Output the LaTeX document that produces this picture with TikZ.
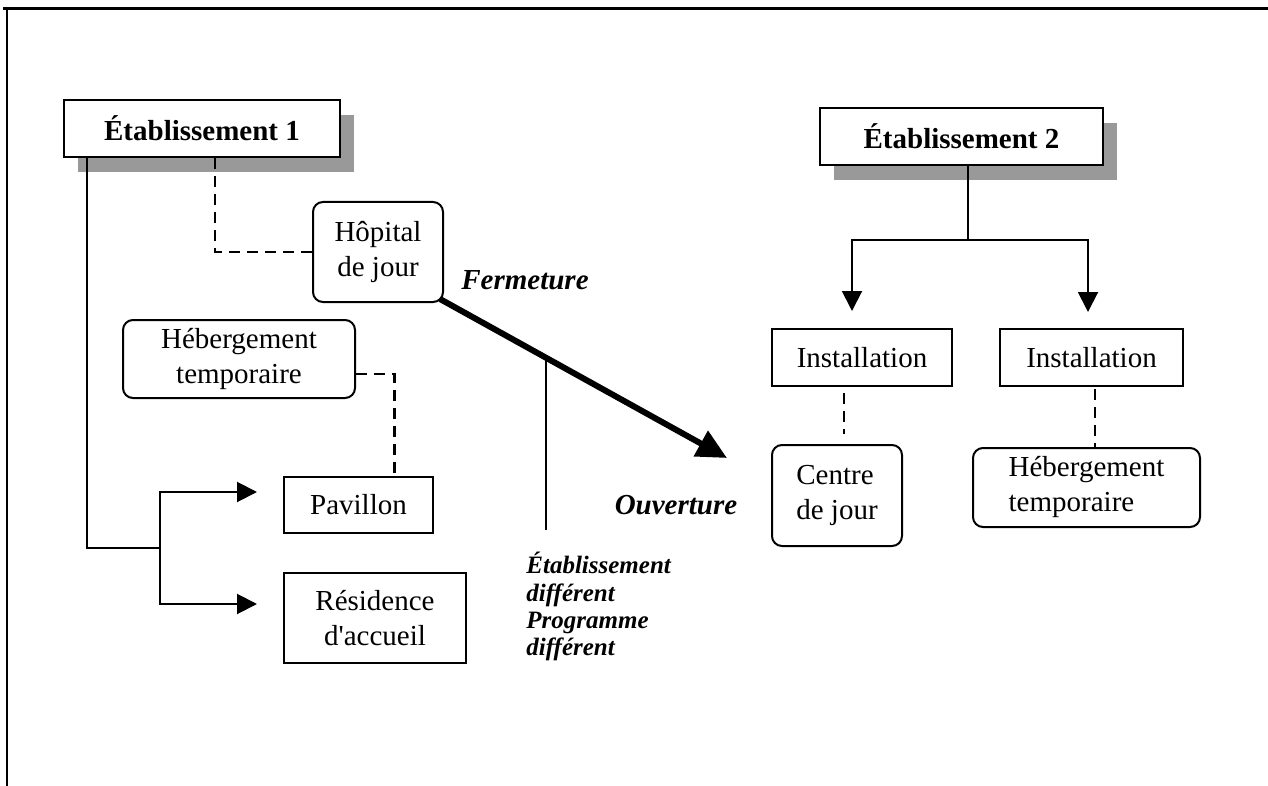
\documentclass[tikz,border=0pt]{standalone}
\usepackage{fontspec}
\setmainfont{Liberation Serif}
\usetikzlibrary{arrows.meta,shadows}
\newcommand{\bodysize}{\fontsize{14.5}{17.5}\selectfont}
\newcommand{\tagsize}{\fontsize{12.5}{13.6}\selectfont}

\begin{document}
\begin{tikzpicture}[x=0.5pt, y=-0.5pt, >={Triangle[length=10pt,width=10pt]},
    every node/.style={font=\bodysize},
    box/.style={draw, line width=1pt, fill=white, align=center, inner sep=0pt},
    rbox/.style={box, rounded corners=5pt},
    shadowbox/.style={box, font=\bodysize\bfseries,
      general shadow={fill=black!40, shadow xshift=7pt, shadow yshift=-7.5pt}},
    dashline/.style={line width=1.4pt, dash pattern=on 5.5pt off 3.5pt},
    tag/.style={font=\bodysize\bfseries\itshape}]
  \useasboundingbox (0,0) rectangle (1268,786);
  % frame
  \draw[line width=1.5pt] (3,9) -- (1268,9);
  \draw[line width=1.2pt] (7,9) -- (7,786);

  % left side
  \node[shadowbox, minimum width=138pt, minimum height=28.5pt] (etab1) at (202,128.5) {Établissement 1};
  \node[rbox, minimum width=65pt, minimum height=50pt] (hopital) at (378,252) {Hôpital\\de jour};
  \node[rbox, minimum width=116pt, minimum height=39pt] (hebergA) at (239,359) {Hébergement\\temporaire};
  \node[box, minimum width=74.5pt, minimum height=28pt] (pavillon) at (358.5,505) {Pavillon};
  \node[box, minimum width=91pt, minimum height=45pt] (residence) at (375,618) {Résidence\\d\textquotesingle accueil};
  \coordinate (fork) at (160,548);
  \draw[line width=1pt] ([xshift=12pt]etab1.south west) |- (fork);
  \draw[->, line width=1pt] (fork) |- ([xshift=-13pt, yshift=6.5pt]pavillon.west);
  \draw[->, line width=1pt] (fork) |- ([xshift=-13pt, yshift=7pt]residence.west);
  \draw[dashline] ([xshift=6.5pt]etab1.south) |- (hopital.west);
  \draw[dashline] ([yshift=-7.5pt]hebergA.east) -| ([xshift=18pt]pavillon.north);

  % transfer
  \coordinate (open) at (727,458);
  \draw[line width=3pt, -{Triangle[length=15pt,width=14pt]}] ([xshift=-2pt, yshift=2pt]hopital.south east)
    -- coordinate[pos=0.37] (branch) (open);
  \coordinate (stem) at (546,530);
  \draw[line width=1pt] (branch) -- (branch |- stem);
  \node[tag] (fermeture) at (525,280) {Fermeture};
  \node[tag] (ouverture) at (676,505) {Ouverture};
  \node[tag, font=\tagsize\bfseries\itshape, anchor=north west, align=left, inner sep=0pt] (diff) at (526,552)
    {Établissement\\différent\\Programme\\différent};

  % right side
  \node[shadowbox, minimum width=141.5pt, minimum height=28.5pt] (etab2) at (961.5,136.5) {Établissement 2};
  \node[box, minimum width=90pt, minimum height=28.5pt] (installA) at (862,357.5) {Installation};
  \node[box, minimum width=91.5pt, minimum height=28.5pt] (installB) at (1091.5,357.5) {Installation};
  \node[rbox, minimum width=65pt, minimum height=50.5pt, align=left] (centre) at (837,495.5) {Centre\\de jour};
  \node[rbox, minimum width=113.5pt, minimum height=39.5pt, align=left] (hebergB) at (1086.5,487.5) {Hébergement\\temporaire};
  \coordinate (split) at (968,240);
  \draw[line width=1pt] ([xshift=3.25pt]etab2.south) -- (split);
  \draw[->, line width=1pt] (split) -| ([xshift=-5pt, yshift=8.5pt]installA.north);
  \draw[->, line width=1pt] (split) -| ([xshift=-1.75pt, yshift=8pt]installB.north);
  \draw[dashline] ([xshift=-9pt, yshift=-3pt]installA.south) -- ([xshift=3.5pt, yshift=5pt]centre.north);
  \draw[dashline] ([xshift=1.75pt, yshift=-1pt]installB.south) -- ([xshift=4.25pt]hebergB.north);
\end{tikzpicture}
\end{document}
